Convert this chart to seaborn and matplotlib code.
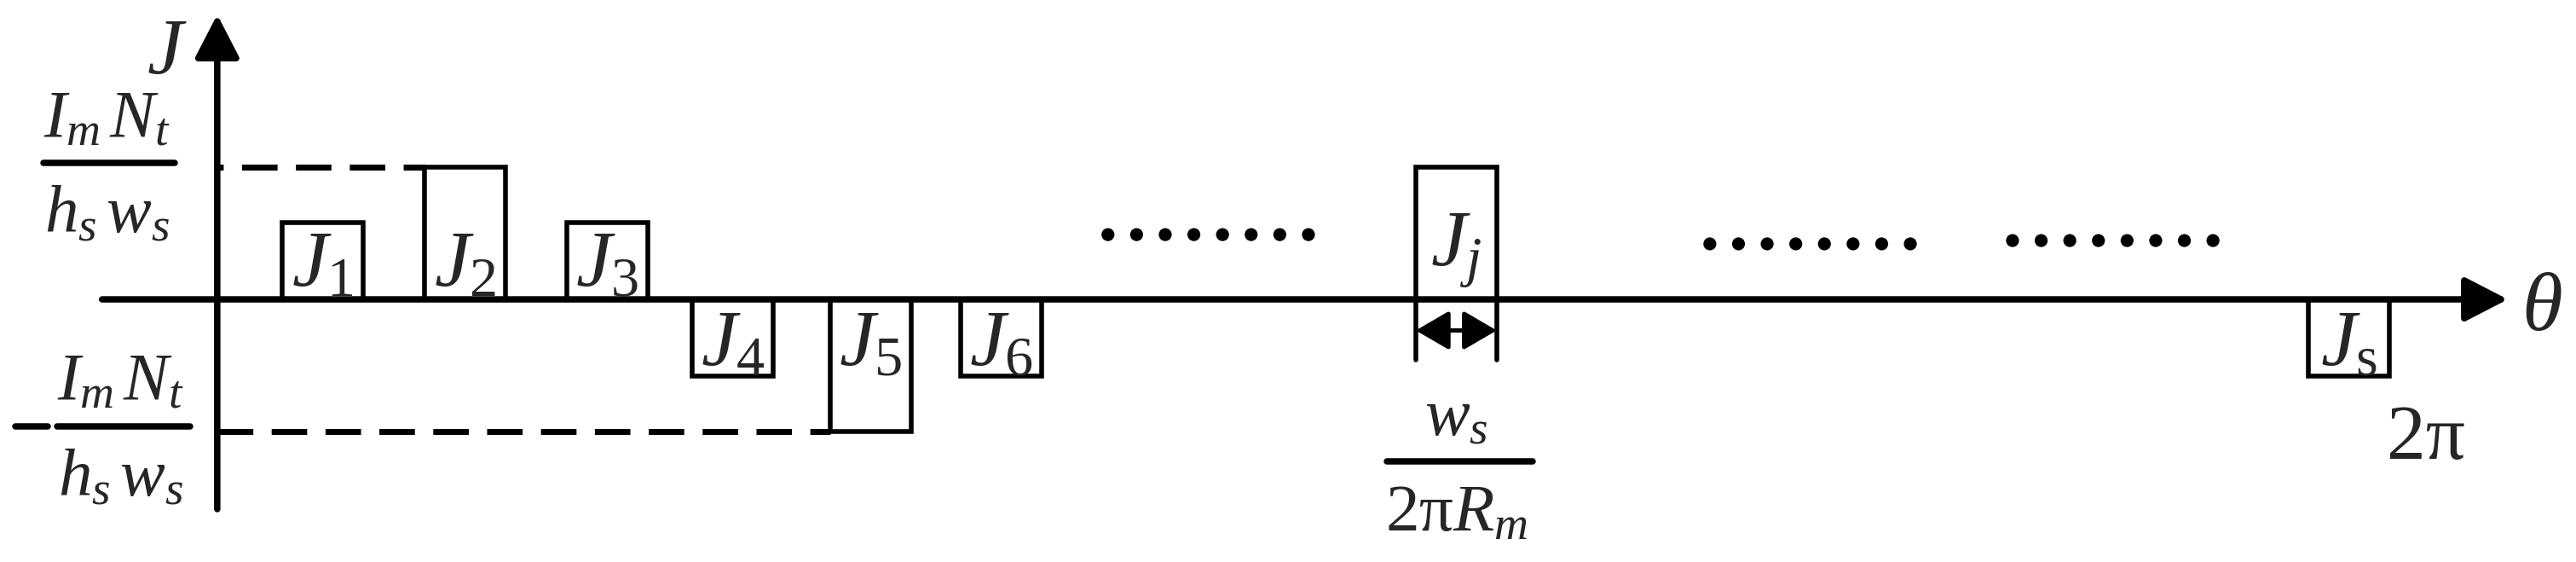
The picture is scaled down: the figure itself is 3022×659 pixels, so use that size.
import numpy as np
import matplotlib
matplotlib.use("Agg")
import matplotlib.pyplot as plt
import seaborn as sns

# winding current density pulses along theta (rad), level normalised to ImNt/(hs ws)
theta_left = [0.187, 0.599, 1.010, 1.373, 1.772, 2.149, 3.465, 6.045]
J_level = [0.58, 1.0, 0.58, -0.58, -1.0, -0.58, 1.0, -0.58]
J_names = [r"$J_1$", r"$J_2$", r"$J_3$", r"$J_4$", r"$J_5$", r"$J_6$", r"$J_j$", r"$J_\mathrm{s}$"]
slot_w = 0.234

# ellipsis groups between the pulses
dot_start = [2.575, 4.315, 5.190]
dot_y = [0.49, 0.42, 0.445]
n_dots = 8
dot_step = 0.0828

sns.set_theme(style="white")
plt.rcParams["font.family"] = ["Liberation Serif", "DejaVu Serif"]
plt.rcParams["mathtext.fontset"] = "custom"
plt.rcParams["mathtext.rm"] = "Liberation Serif"
plt.rcParams["mathtext.it"] = "Liberation Serif:italic"

fig = plt.figure(figsize=(30.22, 6.59), dpi=100)
ax = fig.add_axes([0, 0, 1, 1])
ax.set_xlim(-0.628, 6.819)
ax.set_ylim(-1.987, 2.265)
ax.axis("off")

# pulses
ax.bar(theta_left, J_level, width=slot_w, align="edge", fill=False,
       edgecolor="black", linewidth=4, zorder=3)
for x0, lv, name in zip(theta_left, J_level, J_names):
    yb = 0.10 if lv > 0 else -0.50
    if "j" in name:
        yb = 0.26
    ax.text(x0 + slot_w / 2, yb, name, ha="center", va="baseline", fontsize=68)

# dashed reference levels
i_top = J_level.index(1.0)
i_bot = J_level.index(-1.0)
sns.lineplot(x=[0, theta_left[i_top]], y=[1.0, 1.0], ax=ax, color="black",
             linewidth=5, linestyle=(5, (6, 3.1)), zorder=2)
sns.lineplot(x=[0, theta_left[i_bot]], y=[-1.0, -1.0], ax=ax, color="black",
             linewidth=5, linestyle=(0, (6, 3.1)), zorder=2)

# axes with arrows
arrow = dict(arrowstyle="-|>,head_length=0.62,head_width=0.32",
             mutation_scale=50, lw=5.4, color="black", shrinkA=0, shrinkB=0)
ax.annotate("", xy=(6.622, 0), xytext=(-0.333, 0), arrowprops=arrow, zorder=4)
ax.annotate("", xy=(0, 2.155), xytext=(0, -1.587), arrowprops=arrow, zorder=4)

# ellipses
dx, dy = [], []
for xs, ys in zip(dot_start, dot_y):
    for k in range(n_dots):
        dx.append(xs + k * dot_step)
        dy.append(ys)
sns.scatterplot(x=dx, y=dy, ax=ax, color="black", s=120, marker="o",
                edgecolor="none", zorder=3)

# axis labels
ax.text(-0.145, 1.858, r"$J$", ha="center", va="center", fontsize=68)
ax.text(6.72, -0.084, r"$\theta$", ha="center", va="center", fontsize=70)
ax.text(6.385, -1.06, "2π", ha="center", va="center", fontsize=66)

# level fractions
fs = 57
num = r"$I_m\,N_t$"
den = r"$h_s\,w_s$"
ax.plot([-0.503, -0.123], [1.03, 1.03], color="black", lw=5.4)
ax.text(-0.318, 1.23, num, ha="center", va="baseline", fontsize=fs)
ax.text(-0.318, 0.503, den, ha="center", va="baseline", fontsize=fs)

ax.plot([-0.584, -0.490], [-0.96, -0.96], color="black", lw=5.4)
ax.plot([-0.463, -0.079], [-0.96, -0.96], color="black", lw=5.4)
ax.text(-0.278, -0.761, num, ha="center", va="baseline", fontsize=fs)
ax.text(-0.278, -1.49, den, ha="center", va="baseline", fontsize=fs)

# slot width marker under J_j
i_j = J_names.index(r"$J_j$")
xl, xr = theta_left[i_j], theta_left[i_j] + slot_w
ax.plot([xl, xl], [0, -0.46], color="black", lw=4)
ax.plot([xr, xr], [0, -0.46], color="black", lw=4)
ax.annotate("", xy=(xr, -0.235), xytext=(xl, -0.235),
            arrowprops=dict(arrowstyle="<|-|>,head_length=0.6,head_width=0.35",
                            mutation_scale=40, lw=3.6, color="black",
                            shrinkA=0, shrinkB=0))
xc = xl + slot_w / 2
ax.plot([3.381, 3.802], [-1.226, -1.226], color="black", lw=5.4)
ax.text(xc, -1.032, r"$w_s$", ha="center", va="baseline", fontsize=fs)
ax.text(xc, -1.748, r"$2\mathrm{\pi} R_m$", ha="center", va="baseline", fontsize=fs)

fig.savefig("out.png", dpi=100, facecolor="white")
